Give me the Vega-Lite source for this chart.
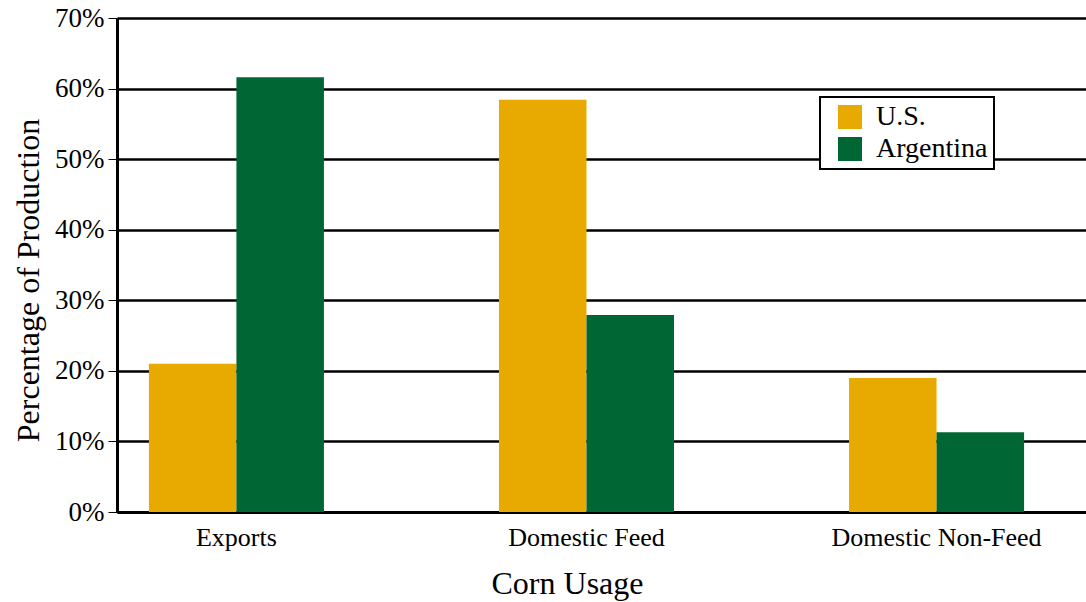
{
  "$schema": "https://vega.github.io/schema/vega-lite/v6.json",
  "width": 969,
  "height": 494,
  "autosize": {"type": "none"},
  "padding": {"left": 117, "top": 18, "right": 0, "bottom": 90},
  "background": "white",
  "config": {
    "font": "Liberation Serif",
    "view": {"stroke": null}
  },
  "data": {
    "values": [
      {"usage": "Exports", "country": "U.S.", "pct": 0.21},
      {"usage": "Exports", "country": "Argentina", "pct": 0.616},
      {"usage": "Domestic Feed", "country": "U.S.", "pct": 0.584},
      {"usage": "Domestic Feed", "country": "Argentina", "pct": 0.279},
      {"usage": "Domestic Non-Feed", "country": "U.S.", "pct": 0.19},
      {"usage": "Domestic Non-Feed", "country": "Argentina", "pct": 0.113}
    ]
  },
  "mark": {"type": "bar"},
  "encoding": {
    "x": {
      "field": "usage",
      "type": "nominal",
      "sort": ["Exports", "Domestic Feed", "Domestic Non-Feed"],
      "scale": {"paddingInner": 0.5, "paddingOuter": 0.134, "align": 0.34},
      "axis": {
        "title": "Corn Usage",
        "titleFontSize": 32,
        "titleFontWeight": "normal",
        "titleColor": "black",
        "titlePadding": 18,
        "titleX": 450,
        "labelAngle": 0,
        "labelFontSize": 26,
        "labelColor": "black",
        "labelPadding": 12,
        "labelLimit": 500,
        "ticks": false,
        "domainColor": "black",
        "domainWidth": 3
      }
    },
    "xOffset": {
      "field": "country",
      "type": "nominal",
      "sort": ["U.S.", "Argentina"]
    },
    "y": {
      "field": "pct",
      "type": "quantitative",
      "scale": {"domain": [0, 0.7], "nice": false},
      "axis": {
        "title": "Percentage of Production",
        "titleFontSize": 32,
        "titleFontWeight": "normal",
        "titleColor": "black",
        "titlePadding": 9,
        "titleY": 262,
        "format": ".0%",
        "values": [0, 0.1, 0.2, 0.3, 0.4, 0.5, 0.6, 0.7],
        "labelFontSize": 27,
        "labelColor": "black",
        "labelPadding": 4,
        "tickColor": "black",
        "tickSize": 9,
        "tickWidth": 1,
        "grid": true,
        "gridColor": "black",
        "gridWidth": 2.5,
        "gridOpacity": 1,
        "domainColor": "black",
        "domainWidth": 3
      }
    },
    "color": {
      "field": "country",
      "type": "nominal",
      "sort": ["U.S.", "Argentina"],
      "scale": {"domain": ["U.S.", "Argentina"], "range": ["#E8AA00", "#006633"]},
      "legend": {
        "title": null,
        "orient": "none",
        "legendX": 703,
        "legendY": 79,
        "symbolType": "square",
        "symbolSize": 576,
        "symbolStrokeWidth": 0,
        "symbolOpacity": 1,
        "symbolOffset": 10,
        "labelFontSize": 28,
        "labelColor": "black",
        "labelOffset": 12,
        "rowPadding": 4,
        "padding": 6,
        "strokeColor": "black",
        "fillColor": "white",
        "labelLimit": 250,
        "encode": {"legend": {"update": {"strokeWidth": {"value": 2}}}}
      }
    }
  }
}
